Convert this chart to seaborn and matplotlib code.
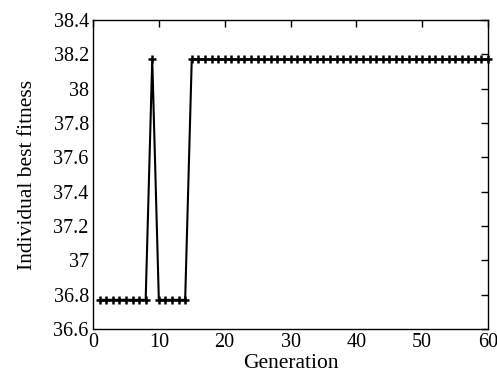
import matplotlib
matplotlib.use("Agg")
import matplotlib.pyplot as plt
import seaborn as sns
import pandas as pd

generations = list(range(1, 61))
fitness = [36.77] * 8 + [38.17] + [36.77] * 5 + [38.17] * 46
y_ticks = [36.6, 36.8, 37.0, 37.2, 37.4, 37.6, 37.8, 38.0, 38.2, 38.4]
y_tick_labels = ["36.6", "36.8", "37", "37.2", "37.4", "37.6", "37.8", "38", "38.2", "38.4"]
x_ticks = [0, 10, 20, 30, 40, 50, 60]

sns.set_theme(style="white")
plt.rcParams['font.family'] = ['Liberation Serif', 'DejaVu Serif']

df = pd.DataFrame({"Generation": generations, "Fitness": fitness})

fig = plt.figure(figsize=(4.97, 3.75), dpi=100)
ax = fig.add_axes([93/497, 1 - 329/375, (488-93)/497, (329-20)/375])
sns.lineplot(data=df, x="Generation", y="Fitness", ax=ax, color="black",
             linewidth=1.5, marker="+", markersize=6, markeredgewidth=1.8,
             markeredgecolor="black", clip_on=False)
ax.set_xlim(0, 60)
ax.set_ylim(36.6, 38.4)
ax.set_xticks(x_ticks)
ax.set_yticks(y_ticks)
ax.set_yticklabels(y_tick_labels)
ax.tick_params(direction="in", top=True, right=True, length=5, width=1, labelsize=14.5,
               colors="black", pad=3)
for s in ax.spines.values():
    s.set_color("black")
    s.set_linewidth(1)
ax.set_xlabel("Generation", fontsize=15.5, color="black", labelpad=1)
ax.set_ylabel("Individual best fitness", fontsize=15.5, color="black", labelpad=12)
fig.savefig("out.png", dpi=100)
